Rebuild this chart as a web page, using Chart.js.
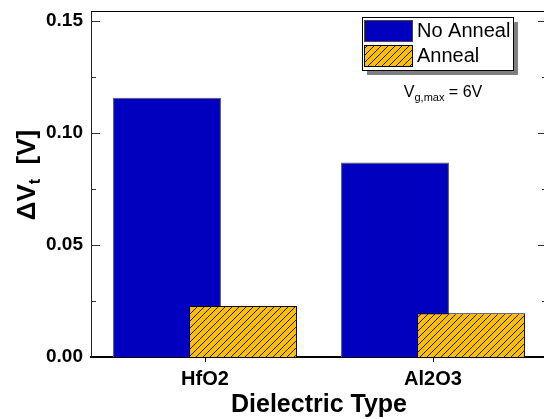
<!DOCTYPE html>
<html>
<head>
<meta charset="utf-8">
<script src="https://cdn.jsdelivr.net/npm/chart.js@4/dist/chart.umd.min.js"></script>
<style>
  html, body { margin: 0; padding: 0; background: #fff; overflow: hidden; }
  #wrap { width: 552px; height: 419px; position: relative; }
</style>
</head>
<body>
<div id="wrap"><canvas id="c" width="552" height="419"></canvas></div>
<script>
// Threshold-voltage shift per dielectric, with and without anneal
const categories = ['HfO2', 'Al2O3'];
const seriesNames = ['No Anneal', 'Anneal'];
const noAnneal = [0.1158, 0.0868];
const anneal = [0.0228, 0.0195];
const yTickValues = [0.00, 0.05, 0.10, 0.15];

const FONT = '"Liberation Sans", Arial, Helvetica, sans-serif';
const BLUE = '#0000BE';
const GOLD = '#FFBF00';

// Diagonal hatch fill for the annealed bars
function hatch() {
  const s = 7;
  const c = document.createElement('canvas');
  c.width = s; c.height = s;
  const g = c.getContext('2d');
  g.fillStyle = GOLD;
  g.fillRect(0, 0, s, s);
  g.strokeStyle = '#1a1a1a';
  g.lineWidth = 1;
  g.beginPath();
  g.moveTo(0, s); g.lineTo(s, 0);
  g.moveTo(-1, 1); g.lineTo(1, -1);
  g.moveTo(s - 1, s + 1); g.lineTo(s + 1, s - 1);
  g.stroke();
  return g.createPattern(c, 'repeat');
}
const hatchFill = hatch();

const isMajor = v => yTickValues.some(t => Math.abs(t - v) < 1e-9);

// Draw the annealed series after the unannealed one so it sits on top
let lateDraw = false;
const layering = {
  id: 'layering',
  beforeDatasetDraw(chart, args) {
    if (args.index === 1 && !lateDraw) return false;
  },
  afterDatasetsDraw(chart) {
    lateDraw = true;
    chart.getDatasetMeta(1).controller.draw();
    lateDraw = false;
  }
};

// Frame, inward ticks, titles, legend box and note
const decor = {
  id: 'decor',
  afterDraw(chart) {
    const ctx = chart.ctx;
    const { left, right, top, bottom } = chart.chartArea;
    const y = chart.scales.y;
    ctx.save();

    // frame top/right
    ctx.strokeStyle = '#000';
    ctx.lineWidth = 1;
    ctx.beginPath();
    ctx.moveTo(left, top + 0.5); ctx.lineTo(right, top + 0.5);
    ctx.moveTo(right - 0.5, top); ctx.lineTo(right - 0.5, bottom);
    ctx.stroke();

    // inward y ticks on both sides
    ctx.strokeStyle = '#333';
    ctx.beginPath();
    y.ticks.forEach(t => {
      const py = Math.round(y.getPixelForValue(t.value)) + 0.5;
      if (t.value <= 0) return;
      const len = isMajor(t.value) ? 9 : 5;
      ctx.moveTo(left, py); ctx.lineTo(left + len, py);
      ctx.moveTo(right, py); ctx.lineTo(right - len, py);
    });
    ctx.stroke();

    // y title: ΔV_t [V]
    ctx.fillStyle = '#000';
    ctx.translate(26, 175);
    ctx.rotate(-Math.PI / 2);
    const big = 'bold 26px ' + FONT, small = 'bold 16px ' + FONT;
    ctx.font = big; const w1 = ctx.measureText('\u0394V').width;
    ctx.font = small; const w2 = ctx.measureText('t').width;
    ctx.font = big; const w3 = ctx.measureText('  [V]').width;
    let x0 = -(w1 + w2 + w3) / 2;
    ctx.textBaseline = 'alphabetic';
    ctx.textAlign = 'left';
    ctx.font = big; ctx.fillText('\u0394V', x0, 9);
    ctx.font = small; ctx.fillText('t', x0 + w1, 14);
    ctx.font = big; ctx.fillText('  [V]', x0 + w1 + w2, 9);
    ctx.setTransform(1, 0, 0, 1, 0, 0);

    // x title
    ctx.font = 'bold 25px ' + FONT;
    ctx.textAlign = 'center';
    ctx.textBaseline = 'middle';
    ctx.fillText('Dielectric Type', (left + right) / 2, 405);

    // legend with drop shadow
    const lx = 362, ly = 17, lw = 151, lh = 53;
    ctx.fillStyle = '#7f7f7f';
    ctx.fillRect(lx + 5, ly + 5, lw, lh);
    ctx.fillStyle = '#fff';
    ctx.fillRect(lx, ly, lw, lh);
    ctx.strokeStyle = '#000';
    ctx.strokeRect(lx + 0.5, ly + 0.5, lw, lh);
    const sw = [[BLUE, '#444'], [hatchFill, '#000']];
    chart.data.datasets.forEach((ds, i) => {
      const sy = ly + 3 + i * 25;
      ctx.fillStyle = sw[i][0];
      ctx.fillRect(lx + 2, sy, 48, 21);
      ctx.strokeStyle = sw[i][1];
      ctx.strokeRect(lx + 2.5, sy + 0.5, 48, 21);
      ctx.fillStyle = '#000';
      ctx.font = '20px ' + FONT;
      ctx.textAlign = 'left';
      ctx.textBaseline = 'middle';
      ctx.fillText(ds.label, lx + 55, sy + 11.5);
    });

    // operating-condition note
    const f1 = '16px ' + FONT, f2 = '11px ' + FONT;
    ctx.font = f1; const a = ctx.measureText('V').width;
    ctx.font = f2; const b = ctx.measureText('g,max').width;
    ctx.font = f1; const c = ctx.measureText(' = 6V').width;
    let nx = 443 - (a + b + c) / 2;
    ctx.textBaseline = 'alphabetic';
    ctx.fillStyle = '#000';
    ctx.font = f1; ctx.fillText('V', nx, 97);
    ctx.font = f2; ctx.fillText('g,max', nx + a, 101);
    ctx.font = f1; ctx.fillText(' = 6V', nx + a + b, 97);

    ctx.restore();
  }
};

new Chart(document.getElementById('c'), {
  type: 'bar',
  data: {
    labels: categories,
    datasets: [
      {
        label: seriesNames[0],
        data: noAnneal,
        backgroundColor: BLUE,
        borderColor: '#555',
        borderWidth: 1,
        categoryPercentage: 2 / 3,
        barPercentage: 1.42
      },
      {
        label: seriesNames[1],
        data: anneal,
        backgroundColor: hatchFill,
        borderColor: '#000',
        borderWidth: 1,
        categoryPercentage: 2 / 3,
        barPercentage: 1.42
      }
    ]
  },
  plugins: [layering, decor],
  options: {
    responsive: false,
    animation: false,
    devicePixelRatio: 1,
    layout: { padding: { top: 11, right: 5, left: 0, bottom: 0 } },
    plugins: { legend: { display: false }, tooltip: { enabled: false } },
    scales: {
      x: {
        afterFit: s => { s.height = 62; s.paddingLeft = 0; s.paddingRight = 0; },
        grid: { display: true, drawOnChartArea: false, offset: false, tickLength: 5, color: '#000', tickColor: '#000' },
        border: { display: true, color: '#000', width: 2 },
        ticks: { color: '#000', font: { family: FONT, size: 20, weight: 'bold' }, padding: 5 }
      },
      y: {
        min: 0,
        max: 0.1545,
        afterFit: s => { s.width = 91; s.paddingTop = 0; s.paddingBottom = 0; },
        grid: { display: false, drawTicks: false },
        border: { display: true, color: '#222', width: 1 },
        ticks: {
          stepSize: 0.025,
          includeBounds: false,
          color: '#000',
          padding: 8,
          font: { family: FONT, size: 19, weight: 'bold' },
          callback: v => isMajor(v) ? v.toFixed(2) : ''
        }
      }
    }
  }
});
</script>
</body>
</html>
